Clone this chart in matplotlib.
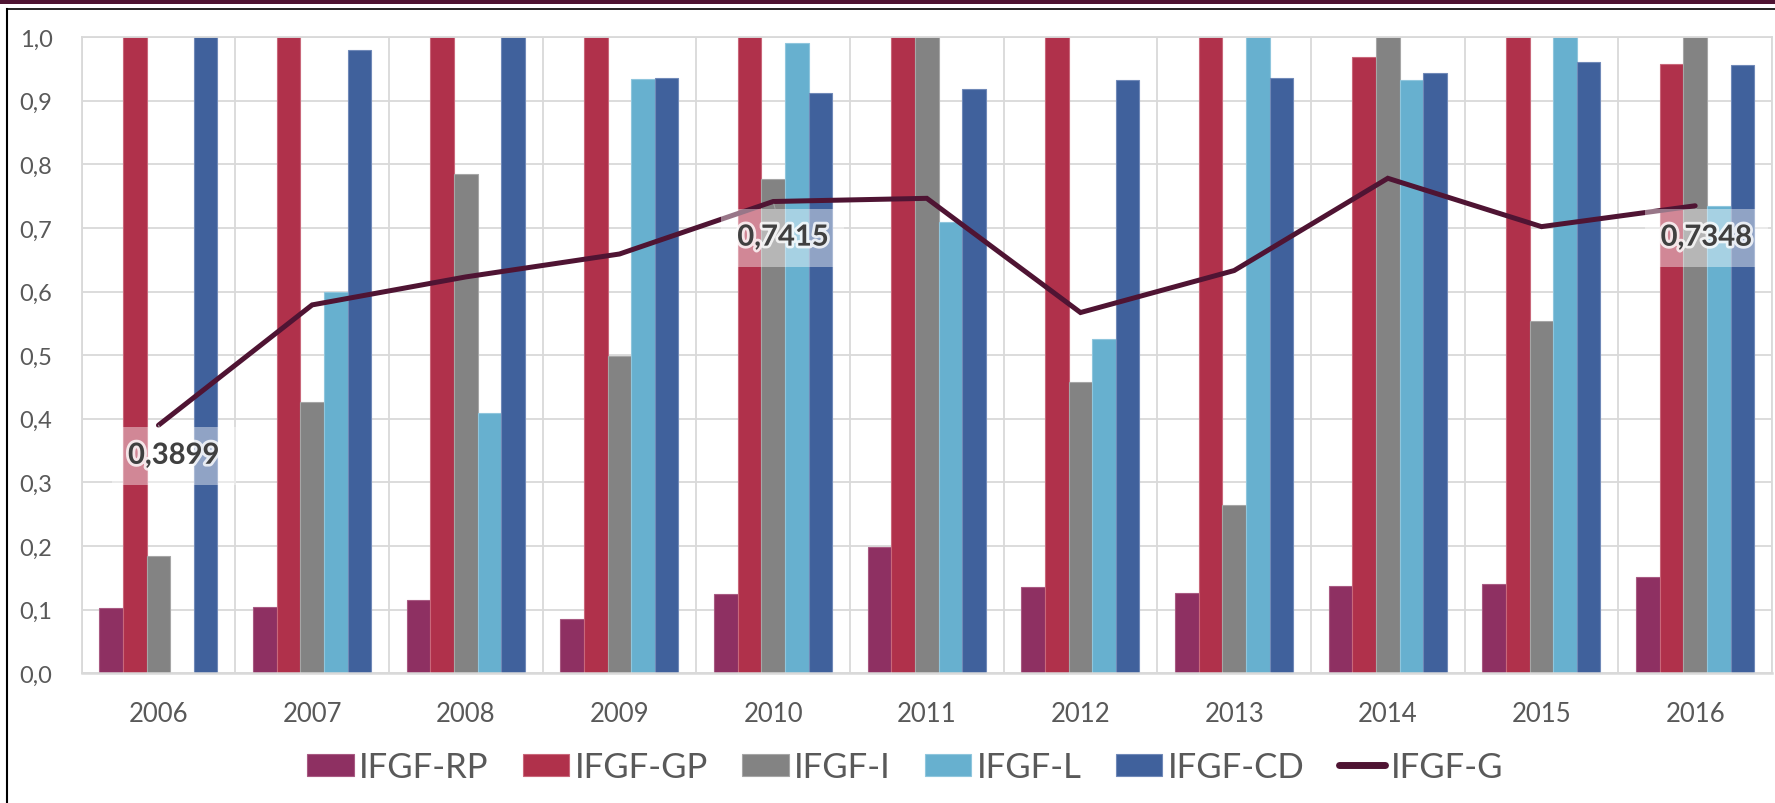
import numpy as np
import matplotlib
matplotlib.use("Agg")
import matplotlib.pyplot as plt
import matplotlib.patheffects as pe
from matplotlib.lines import Line2D
from matplotlib.patches import Rectangle

plt.rcParams['font.family'] = ['Lato', 'DejaVu Sans']

years = ['2006', '2007', '2008', '2009', '2010', '2011',
         '2012', '2013', '2014', '2015', '2016']

ifgf_rp = [0.102, 0.105, 0.115, 0.086, 0.124, 0.198, 0.135, 0.127, 0.137, 0.141, 0.151]
ifgf_gp = [1.0, 1.0, 1.0, 1.0, 1.0, 1.0, 1.0, 1.0, 0.968, 1.0, 0.957]
ifgf_i = [0.185, 0.427, 0.784, 0.499, 0.777, 1.0, 0.458, 0.265, 1.0, 0.553, 1.0]
ifgf_l = [np.nan, 0.600, 0.409, 0.934, 0.990, 0.709, 0.525, 1.0, 0.932, 1.0, 0.735]
ifgf_cd = [1.0, 0.980, 1.0, 0.936, 0.912, 0.918, 0.932, 0.936, 0.943, 0.960, 0.956]
ifgf_g = [0.3899, 0.579, 0.623, 0.659, 0.7415, 0.7465, 0.567, 0.633, 0.778, 0.702, 0.7348]

# years whose IFGF-G value gets a data label
labelled = {'2006': 0.3899, '2010': 0.7415, '2016': 0.7348}

bar_series = [
    ('IFGF-RP', ifgf_rp, '#8E3062', '#A85A82'),
    ('IFGF-GP', ifgf_gp, '#B0314B', '#C9677A'),
    ('IFGF-I', ifgf_i, '#838383', '#A6A6A6'),
    ('IFGF-L', ifgf_l, '#67B0CF', '#8FC6DD'),
    ('IFGF-CD', ifgf_cd, '#40619C', '#7089B8'),
]
line_color = '#4F1433'
text_color = '#595959'
grid_color = '#D9D9D9'

fig = plt.figure(figsize=(17.75, 8.04), dpi=100)
ax = fig.add_axes([0.046, 0.1613, 0.9523, 0.7914])

x = np.arange(len(years))
width = 0.1536
handles = []
for k, (name, vals, color, edge) in enumerate(bar_series):
    bc = ax.bar(x + (k - 2) * width, vals, width, color=color, edgecolor=edge,
                linewidth=0.8, label=name, zorder=2)
    handles.append(bc)

ln, = ax.plot(x, ifgf_g, color=line_color, linewidth=3.6, solid_capstyle='round',
              solid_joinstyle='miter', label='IFGF-G', zorder=4)
handles.append(ln)

# data labels with a translucent white backing
offsets = {'2006': (11, -22), '2010': (7, -26), '2016': (8, -23)}
for yr, val in labelled.items():
    i = years.index(yr)
    dx, dy = offsets[yr]
    ax.annotate(f"{val:.4f}".replace('.', ','), xy=(i, val),
                xytext=(dx, dy), textcoords='offset points',
                ha='center', va='center', fontsize=21, fontweight='bold',
                color='#404040', zorder=6,
                bbox=dict(boxstyle='square,pad=0.55', fc='white', ec='none', alpha=0.42),
                arrowprops=dict(arrowstyle='-', color='#A0A0A0', lw=0.8,
                                shrinkA=0, shrinkB=2),
                path_effects=[pe.withStroke(linewidth=4, foreground='white', alpha=0.8)])

ax.set_xlim(-0.5, len(years) - 0.5)
ax.set_ylim(0, 1.0)
ax.set_yticks(np.arange(0, 1.01, 0.1))
ax.set_yticklabels([f"{v:.1f}".replace('.', ',') for v in np.arange(0, 1.01, 0.1)])
ax.set_xticks(x)
ax.set_xticklabels(years)
ax.set_xticks(np.arange(-0.5, len(years), 1.0), minor=True)

ax.tick_params(axis='both', which='both', length=0, colors=text_color)
ax.tick_params(axis='x', which='major', labelsize=18.5, pad=20)
ax.tick_params(axis='y', labelsize=17, pad=21)
ax.grid(True, axis='y', which='major', color=grid_color, linewidth=1.3, zorder=0)
ax.grid(True, axis='x', which='minor', color=grid_color, linewidth=1.3, zorder=0)
ax.grid(False, axis='x', which='major')
ax.set_axisbelow(True)
for side in ax.spines.values():
    side.set_color(grid_color)
    side.set_linewidth(1.3)
ax.spines['bottom'].set_linewidth(1.8)

leg = fig.legend(handles, [h.get_label() for h in handles],
                 loc='center', bbox_to_anchor=(0.51, 0.045), ncol=6,
                 frameon=False, fontsize=25, handlelength=1.33, handleheight=0.6,
                 handletextpad=0.15, columnspacing=1.0, labelcolor=text_color)
for h in leg.legend_handles:
    if isinstance(h, Line2D):
        h.set_solid_capstyle('round')
        h.set_linewidth(5)

# page frame: maroon band, black rule and left edge
fig.add_artist(Rectangle((0, 1 - 5 / 804), 1, 5 / 804, transform=fig.transFigure,
                         color=line_color, lw=0))
fig.add_artist(Line2D([7 / 1775, 1], [1 - 9.5 / 804] * 2, transform=fig.transFigure,
                      color='black', lw=1.2))
fig.add_artist(Line2D([7 / 1775] * 2, [0, 1 - 9.5 / 804], transform=fig.transFigure,
                      color='black', lw=1.5))

fig.savefig('out.png', dpi=100)
